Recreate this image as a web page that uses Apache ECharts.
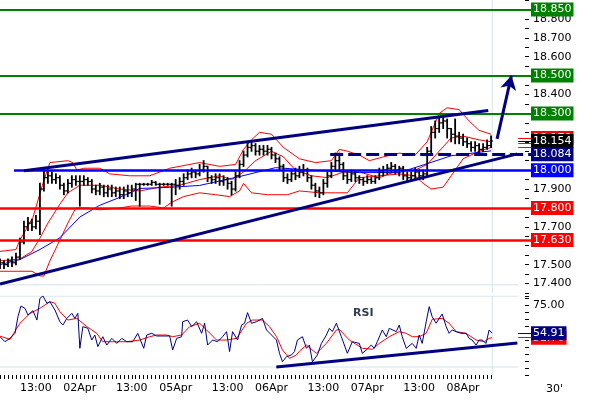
<!DOCTYPE html>
<html>
<head>
<meta charset="utf-8">
<title>30' chart</title>
<script src="https://cdn.jsdelivr.net/npm/echarts@6/dist/echarts.min.js"></script>
<style>
  html, body { margin: 0; padding: 0; background: #fff; }
  #chart { width: 590px; height: 400px; }
</style>
</head>
<body>
<div id="chart"></div>
<script>
// hourly bars, first bar = 01Apr 04:00   [open, close, low, high]
var bars = [
  [17.50, 17.51, 17.48, 17.53], [17.51, 17.50, 17.48, 17.52], [17.50, 17.52, 17.49, 17.53], [17.52, 17.51, 17.49, 17.54],
  [17.51, 17.54, 17.50, 17.56], [17.54, 17.62, 17.53, 17.64], [17.62, 17.70, 17.61, 17.73], [17.70, 17.72, 17.68, 17.75],
  [17.72, 17.70, 17.68, 17.74], [17.70, 17.73, 17.69, 17.76], [17.73, 17.90, 17.66, 17.93], [17.90, 17.96, 17.89, 18.01],
  [17.96, 17.97, 17.93, 18.00], [17.97, 17.95, 17.93, 17.99], [17.95, 17.96, 17.93, 17.98], [17.96, 17.92, 17.90, 17.97],
  [17.92, 17.89, 17.87, 17.93], [17.89, 17.93, 17.88, 17.95], [17.93, 17.95, 17.91, 17.97], [17.95, 17.94, 17.92, 17.97],
  [17.94, 17.94, 17.81, 17.97], [17.94, 17.95, 17.92, 17.97], [17.95, 17.94, 17.92, 17.96], [17.94, 17.90, 17.88, 17.95],
  [17.90, 17.89, 17.87, 17.92], [17.89, 17.91, 17.87, 17.93], [17.91, 17.88, 17.86, 17.92], [17.88, 17.90, 17.86, 17.92],
  [17.90, 17.88, 17.86, 17.92], [17.88, 17.89, 17.86, 17.91], [17.89, 17.87, 17.85, 17.91], [17.87, 17.89, 17.85, 17.91],
  [17.89, 17.88, 17.86, 17.92], [17.88, 17.90, 17.86, 17.92], [17.90, 17.925, 17.84, 17.93], [17.925, 17.925, 17.81, 17.93],
  [17.925, 17.925, 17.92, 17.93], [17.925, 17.925, 17.92, 17.93], [17.925, 17.935, 17.92, 17.945], [17.935, 17.925, 17.92, 17.94],
  [17.925, 17.925, 17.82, 17.93], [17.925, 17.925, 17.92, 17.93], [17.925, 17.925, 17.92, 17.93], [17.925, 17.925, 17.81, 17.93],
  [17.925, 17.92, 17.87, 17.95], [17.92, 17.94, 17.90, 17.96], [17.94, 17.96, 17.92, 17.98], [17.96, 17.98, 17.95, 18.00],
  [17.98, 17.99, 17.96, 18.01], [17.99, 17.98, 17.96, 18.00], [17.98, 18.00, 17.97, 18.03], [18.00, 18.02, 17.99, 18.05],
  [18.02, 17.96, 17.94, 18.02], [17.96, 17.95, 17.93, 17.97], [17.95, 17.96, 17.93, 17.98], [17.96, 17.94, 17.92, 17.98],
  [17.94, 17.95, 17.92, 17.97], [17.95, 17.93, 17.90, 17.96], [17.93, 17.90, 17.87, 17.94], [17.90, 17.97, 17.89, 17.99],
  [17.97, 18.03, 17.96, 18.05], [18.03, 18.08, 18.02, 18.10], [18.08, 18.12, 18.07, 18.14], [18.12, 18.13, 18.10, 18.155],
  [18.13, 18.10, 18.08, 18.14], [18.10, 18.11, 18.08, 18.13], [18.11, 18.10, 18.08, 18.13], [18.10, 18.11, 18.08, 18.13],
  [18.11, 18.08, 18.06, 18.12], [18.08, 18.06, 18.04, 18.09], [18.06, 18.02, 18.00, 18.07], [18.02, 17.96, 17.94, 18.03],
  [17.96, 17.95, 17.93, 17.98], [17.95, 17.98, 17.94, 18.00], [17.98, 17.97, 17.95, 18.01], [17.97, 17.99, 17.96, 18.02],
  [17.99, 18.00, 17.97, 18.03], [18.00, 17.96, 17.94, 18.01], [17.96, 17.92, 17.90, 17.97], [17.92, 17.89, 17.86, 17.93],
  [17.89, 17.88, 17.855, 17.91], [17.88, 17.93, 17.87, 17.95], [17.93, 17.97, 17.91, 17.99], [17.97, 18.02, 17.96, 18.04],
  [18.02, 18.05, 18.00, 18.09], [18.05, 18.03, 18.00, 18.09], [18.03, 17.97, 17.95, 18.04], [17.97, 17.95, 17.93, 17.99],
  [17.95, 17.98, 17.94, 18.00], [17.98, 17.96, 17.94, 17.99], [17.96, 17.95, 17.93, 17.97], [17.95, 17.94, 17.92, 17.96],
  [17.94, 17.95, 17.93, 17.97], [17.95, 17.94, 17.93, 17.96], [17.94, 17.96, 17.93, 17.97], [17.96, 17.99, 17.95, 18.01],
  [17.99, 18.00, 17.97, 18.02], [18.00, 18.01, 17.98, 18.03], [18.01, 18.02, 17.99, 18.04], [18.02, 18.00, 17.98, 18.03],
  [18.00, 18.01, 17.97, 18.02], [18.01, 17.97, 17.95, 18.02], [17.97, 17.96, 17.94, 17.99], [17.96, 17.97, 17.94, 17.99],
  [17.97, 17.99, 17.95, 18.01], [17.99, 17.97, 17.95, 18.00], [17.97, 17.98, 17.95, 18.00], [17.98, 18.10, 17.97, 18.12],
  [18.10, 18.20, 18.08, 18.23], [18.20, 18.22, 18.17, 18.26], [18.22, 18.25, 18.20, 18.28], [18.25, 18.26, 18.22, 18.29],
  [18.26, 18.22, 18.17, 18.27], [18.22, 18.19, 18.15, 18.22], [18.19, 18.18, 18.14, 18.27], [18.18, 18.17, 18.14, 18.20],
  [18.17, 18.15, 18.13, 18.19], [18.15, 18.14, 18.12, 18.17], [18.14, 18.12, 18.10, 18.15], [18.12, 18.13, 18.10, 18.15],
  [18.13, 18.11, 18.09, 18.14], [18.11, 18.12, 18.10, 18.14], [18.12, 18.13, 18.11, 18.16], [18.13, 18.154, 18.12, 18.18]
];

// indicator curves: [hour, value]
var upperBand = [[0, 17.57], [4, 17.58], [5, 17.63], [8.25, 17.75], [10.75, 17.93], [12.5, 18.04], [17, 18.05], [18.25, 18.04],
  [19.25, 18.00], [21, 18.01], [25, 18.01], [27.5, 17.98], [32.5, 17.97], [37.5, 17.97], [42.5, 18.01], [50, 18.04], [55, 18.02],
  [59, 18.03], [61, 18.11], [63, 18.16], [65, 18.20], [68, 18.19], [71, 18.12], [75, 18.06], [79, 18.04], [83, 18.05], [85, 18.11],
  [87, 18.10], [90, 18.08], [92.5, 18.05], [96, 18.07], [100, 18.09], [104, 18.08], [107, 18.15], [110, 18.30], [112, 18.33],
  [115, 18.32], [117.5, 18.26], [120, 18.21], [123, 18.19]];
var middleBand = [[0, 17.52], [5, 17.53], [8, 17.57], [10, 17.64], [12, 17.72], [15, 17.82], [17, 17.88], [20, 17.92], [25, 17.92],
  [30, 17.90], [35, 17.89], [40, 17.91], [45, 17.92], [50, 17.95], [55, 17.97], [58, 17.95], [61, 17.99], [64, 18.05], [68, 18.10],
  [71, 18.07], [74, 18.00], [78, 17.97], [82, 17.96], [86, 17.99], [90, 17.99], [95, 17.96], [100, 18.00], [104, 18.00], [107, 18.03],
  [110, 18.10], [113, 18.17], [116, 18.18], [120, 18.16], [123, 18.15]];
var lowerBand = [[0, 17.465], [8, 17.465], [10, 17.44], [11, 17.44], [12.5, 17.52], [15, 17.63], [17, 17.72], [19, 17.80], [22, 17.80],
  [25, 17.79], [30, 17.80], [33, 17.81], [37.5, 17.81], [41, 17.80], [43, 17.83], [46, 17.86], [50, 17.88], [54, 17.87], [57.5, 17.86],
  [60, 17.89], [61, 17.93], [63, 17.88], [67, 17.87], [72, 17.87], [75, 17.89], [80, 17.88], [84, 17.88], [87, 17.88], [90, 17.96],
  [95, 17.97], [100, 17.98], [104, 17.97], [106, 17.93], [108, 17.90], [111, 17.91], [113, 17.97], [116, 18.06], [120, 18.10], [123, 18.12]];
var maLine = [[0, 17.50], [5, 17.527], [10, 17.58], [15, 17.642], [20, 17.752], [25, 17.814], [30, 17.856], [35, 17.903], [42.5, 17.909],
  [50, 17.919], [60, 17.966], [69, 18.013], [80, 17.997], [90, 17.987], [100, 17.987], [107, 18.034], [113, 18.076], [123, 18.102]];

var rsiLine = [[0, 52.4], [1.25, 48.8], [2.5, 51.2], [3.75, 54.8], [4.5, 66.7], [5.25, 74.3], [6.25, 72.7], [7, 67.9], [8.25, 71.0],
  [9.25, 64.3], [10, 79.8], [10.75, 81.5], [11.75, 76.3], [12.5, 77.4], [13.75, 71.5], [15, 63.1], [15.75, 60.7], [16.75, 65.5],
  [18, 69.1], [18.75, 65.5], [19.5, 69.1], [20, 44.1], [20.75, 59.6], [22, 58.4], [23, 50.0], [23.75, 53.6], [24.5, 45.3],
  [25.75, 52.4], [26.75, 46.4], [28, 51.2], [29.25, 47.6], [30.5, 51.2], [31.75, 48.8], [33.25, 48.8], [34.5, 54.8], [36, 44.1],
  [36.75, 53.6], [38, 54.8], [39.25, 52.9], [42.5, 52.9], [43.25, 42.9], [44.25, 51.2], [45.5, 52.4], [45.75, 63.1], [47, 64.3],
  [48, 59.6], [49.25, 63.1], [50.5, 54.8], [51.25, 62.0], [52, 46.4], [53.25, 50.0], [54.5, 48.8], [55.75, 52.4], [56.75, 56.0],
  [57.5, 41.7], [58.25, 56.0], [59.5, 50.0], [60.5, 60.7], [61.25, 62.0], [62, 69.6], [63, 62.0], [64.25, 63.1], [65.75, 65.5],
  [66.75, 57.2], [68, 53.6], [69.25, 50.0], [70, 40.5], [70.75, 34.5], [71.75, 38.1], [73, 39.3], [73.75, 41.7], [74.5, 50.0],
  [75.75, 52.4], [76.75, 44.1], [77.5, 46.4], [78.25, 34.5], [79.5, 39.3], [80.5, 47.6], [81.75, 53.6], [82.5, 58.4], [83.25, 56.0],
  [84.25, 62.0], [84.5, 63.1], [85.5, 52.4], [87, 40.5], [88.25, 48.8], [90, 47.6], [90.75, 40.5], [91.75, 42.9], [93, 46.4],
  [93.75, 44.1], [94.5, 48.8], [95.75, 57.2], [96.75, 52.4], [97.5, 58.4], [99.25, 56.0], [100, 60.7], [100.75, 52.4], [101.75, 44.1],
  [103.25, 47.6], [104.25, 44.1], [105, 53.6], [105.75, 47.6], [106.75, 63.1], [107.5, 73.9], [108.25, 66.7], [109.25, 62.0],
  [110, 65.5], [110.75, 68.6], [111.75, 59.6], [112.5, 54.8], [113.25, 57.2], [114.25, 56.0], [115.5, 54.8], [116.75, 54.8],
  [117.5, 51.2], [118.25, 50.0], [119.25, 46.4], [120, 50.0], [120.75, 50.0], [121.75, 47.6], [122.5, 57.2], [123.25, 54.91]];
var rsiSignal = [[0, 52.8], [2.5, 50.5], [5, 62], [7.5, 69], [10, 72.7], [12.5, 77.4], [13.75, 76.3], [15, 70.3], [17, 64.3],
  [19.25, 65.5], [21.75, 59.6], [24.25, 54.8], [25.75, 48.8], [28.25, 48.8], [31.75, 48.8], [35, 50], [37.5, 52.4], [39.25, 53.6],
  [41.75, 53.6], [43.25, 52.4], [45.5, 53.6], [47.5, 59.6], [50, 62], [51.75, 57.2], [54.25, 50], [56.75, 50], [59.25, 51.2],
  [61.75, 62], [63.25, 64.3], [65.75, 64.3], [67.5, 59.6], [69.25, 52.4], [70.75, 42.9], [72.5, 36.9], [74.25, 39.3], [75, 42],
  [76.75, 46.4], [79.25, 40.5], [81.75, 47.6], [84.25, 57.2], [85, 57.6], [87.5, 50], [90.75, 44.1], [93.25, 43.4], [95, 47.6],
  [97.5, 52.4], [100, 56], [101.75, 54.8], [103.25, 52.4], [105, 52.4], [106.75, 54.8], [108.25, 64.8], [110.75, 65.5], [112.5, 62],
  [114.25, 56], [116.75, 54.8], [119.25, 50], [121.25, 48.8], [122.5, 51.2], [123.25, 51.7]];

// drawn levels and lines
var greenLevels = [18.85, 18.5, 18.3];
var redLevels = [17.8, 17.63];
var pivotLevel = 18.0;
var breakLevel = 18.084;
var lastPrice = 18.154;
var bandTop = 18.17;
var bandEnds = [18.14, 18.12];
var channelTop = [[6, 17.997], [122.3, 18.315]];
var channelBottom = [[0, 17.397], [129.6, 18.086]];
var targetArrow = [[124.5, 18.165], [128.1, 18.5]];
var rsiSupport = [[69.2, 30.7], [129.6, 47.9]];
var rsiLast = 54.91;
var signalLast = 51.7;
var nowHour = 123.3;

var labelHours = [9, 20, 33, 44, 57, 68, 81, 92, 105, 116];
var labelText = ['13:00', '02Apr', '13:00', '05Apr', '13:00', '06Apr', '13:00', '07Apr', '13:00', '08Apr'];

var NAVY = '#000080';
var LIGHT = '#d3e4ec';
var FONT = 'DejaVu Sans';
var END = 133;      // right edge of the plot, in hours
var FRAME = 129.8;  // where the light frame lines stop

var tickHours = [];
for (var t = 0; t <= 123; t++) tickHours.push(t);

// price labels that sit under a tag are not drawn
var taggedPrices = greenLevels.concat(redLevels, [pivotLevel, breakLevel, lastPrice, bandTop]);

function tag(text, bg) {
    return {
        show: true, position: 'end', distance: 0, formatter: text,
        color: '#fff', backgroundColor: bg, padding: [1, 2, 0, 2],
        fontFamily: FONT, fontSize: 11, lineHeight: 13
    };
}

function segment(x0, x1, y, color, width, label, dash) {
    return [
        {coord: [x0, y], lineStyle: {color: color, width: width, type: dash || 'solid'}, label: label || {show: false}},
        {coord: [x1, y]}
    ];
}

function renderOhlc(params, api) {
    var x = api.value(0);
    var o = api.coord([x, api.value(1)]);
    var c = api.coord([x, api.value(2)]);
    var l = api.coord([x, api.value(3)]);
    var h = api.coord([x, api.value(4)]);
    var tick = {stroke: '#000', lineWidth: 1.2};
    return {
        type: 'group',
        children: [
            {type: 'line', shape: {x1: l[0], y1: l[1] + 0.5, x2: h[0], y2: h[1] - 0.5}, style: {stroke: '#000', lineWidth: 1.8}},
            {type: 'line', shape: {x1: o[0] - 2, y1: o[1], x2: o[0], y2: o[1]}, style: tick},
            {type: 'line', shape: {x1: c[0], y1: c[1], x2: c[0] + 2, y2: c[1]}, style: tick}
        ]
    };
}

function thin(data, color, grid, z) {
    return {
        type: 'line', data: data, xAxisIndex: grid, yAxisIndex: grid, showSymbol: false, silent: true,
        lineStyle: {color: color, width: 1}, z: z || 2
    };
}

function thick(data, color, grid, width, z) {
    return {
        type: 'line', data: data, xAxisIndex: grid, yAxisIndex: grid, showSymbol: false, silent: true,
        lineStyle: {color: color, width: width}, z: z || 5
    };
}

var levelLines = [];
greenLevels.forEach(function (v) {
    levelLines.push(segment(0, END, v, '#008000', 2, tag(v.toFixed(3), '#008000')));
});
redLevels.forEach(function (v) {
    levelLines.push(segment(0, END, v, '#ff0000', 2.5, tag(v.toFixed(3), '#ff0000')));
});
levelLines.push(segment(3.5, END, pivotLevel, '#0000ff', 2.5, tag(pivotLevel.toFixed(3), '#0000ff')));

var chart = echarts.init(document.getElementById('chart'));

chart.setOption({
    animation: false,
    backgroundColor: '#fff',
    textStyle: {fontFamily: FONT},
    grid: [
        {left: 0, top: -4, width: 531, height: 297},
        {left: 0, top: 296, width: 531, height: 79}
    ],
    xAxis: [
        {gridIndex: 0, type: 'value', min: 0, max: END, show: false, axisLine: {onZero: false}},
        {
            gridIndex: 1, type: 'value', min: 0, max: END,
            axisLine: {show: false, onZero: false},
            splitLine: {show: false},
            axisTick: {show: true, length: 4, lineStyle: {color: '#000'}, customValues: tickHours},
            axisLabel: {
                customValues: labelHours, color: '#000', fontSize: 11, fontFamily: FONT, margin: 8,
                formatter: function (v) { return labelText[labelHours.indexOf(v)] || ''; }
            }
        }
    ],
    yAxis: [
        {
            gridIndex: 0, type: 'value', position: 'right', offset: -6,
            min: 17.35, max: 18.9, interval: 0.05,
            axisLine: {show: false, onZero: false},
            splitLine: {show: false},
            axisTick: {show: true, length: 4, lineStyle: {color: '#000'}},
            axisLabel: {
                color: '#000', fontSize: 11, fontFamily: FONT, margin: 8,
                formatter: function (v) {
                    var k = Math.round(v * 10);
                    if (Math.abs(v * 10 - k) > 1e-6 || v > 18.86) return '';
                    for (var i = 0; i < taggedPrices.length; i++) {
                        if (Math.abs(taggedPrices[i] - v) < 0.035) return '';
                    }
                    return v.toFixed(3);
                }
            }
        },
        {
            gridIndex: 1, type: 'value', position: 'right', offset: -6,
            min: 25, max: 81.5, interval: 5,
            axisLine: {show: false, onZero: false},
            splitLine: {show: false},
            axisTick: {show: true, length: 4, lineStyle: {color: '#000'}},
            axisLabel: {
                color: '#000', fontSize: 11, fontFamily: FONT, margin: 8,
                formatter: function (v) { return Math.abs(v - 75) < 1e-6 ? '75.00' : ''; }
            }
        }
    ],
    series: [
        // frame lines
        thin([[0, 17.393], [FRAME, 17.393]], LIGHT, 0, 1),
        thin([[nowHour, 17.35], [nowHour, 18.9]], LIGHT, 0, 1),
        thin([[0, 81.4], [FRAME, 81.4]], LIGHT, 1, 1),
        thin([[0, 30.7], [FRAME, 30.7]], LIGHT, 1, 1),
        thin([[nowHour, 25], [nowHour, 81.5]], LIGHT, 1, 1),

        // bollinger bands and moving average
        thin(upperBand, '#ff0000', 0),
        thin(middleBand, '#ff0000', 0),
        thin(lowerBand, '#ff0000', 0),
        thin(maLine, '#0000ff', 0),

        {
            type: 'custom', name: 'price', xAxisIndex: 0, yAxisIndex: 0, silent: true, z: 3,
            renderItem: renderOhlc,
            encode: {x: 0, y: [1, 2, 3, 4]},
            data: bars.map(function (b, i) { return [i].concat(b); })
        },

        // horizontal levels with tags
        {
            type: 'line', xAxisIndex: 0, yAxisIndex: 0, data: [], z: 4, clip: false, silent: true,
            markLine: {silent: true, symbol: ['none', 'none'], animation: false, data: levelLines}
        },

        // trend channel
        thick(channelTop, NAVY, 0, 3),
        thick(channelBottom, NAVY, 0, 3),

        // broken resistance and current price tags
        {
            type: 'line', xAxisIndex: 0, yAxisIndex: 0, data: [], z: 6, clip: false, silent: true,
            markLine: {
                silent: true, symbol: ['none', 'none'], animation: false,
                data: [
                    segment(FRAME, END, bandTop, '#ff0000', 1, tag(bandTop.toFixed(3), '#ff0000')),
                    segment(FRAME, END, bandEnds[0], '#ff0000', 1),
                    segment(FRAME, END, bandEnds[1], '#ff0000', 1),
                    segment(FRAME, END, lastPrice, '#000', 1, tag(lastPrice.toFixed(3), '#000')),
                    segment(82.7, END, breakLevel, NAVY, 3, tag(breakLevel.toFixed(3), NAVY), [13, 5])
                ]
            }
        },

        // target arrow
        {
            type: 'line', xAxisIndex: 0, yAxisIndex: 0, data: [], z: 6, clip: false, silent: true,
            markLine: {
                silent: true, animation: false, symbol: ['none', 'arrow'], symbolSize: [12, 14],
                data: [[
                    {coord: targetArrow[0], lineStyle: {color: NAVY, width: 3, type: 'solid'}, label: {show: false}},
                    {coord: targetArrow[1]}
                ]]
            }
        },

        // RSI panel
        thin(rsiSignal, '#ff0000', 1, 2),
        thin(rsiLine, NAVY, 1, 3),
        thick(rsiSupport, NAVY, 1, 3),
        {
            type: 'line', xAxisIndex: 1, yAxisIndex: 1, data: [], z: 6, clip: false, silent: true,
            markLine: {
                silent: true, symbol: ['none', 'none'], animation: false,
                data: [
                    segment(FRAME, END, signalLast, '#ff0000', 1, tag(signalLast.toFixed(2), '#ff0000')),
                    segment(FRAME, END, rsiLast, NAVY, 1, tag(rsiLast.toFixed(2), NAVY))
                ]
            }
        }
    ],
    graphic: [
        {type: 'text', left: 353, top: 308, style: {text: 'RSI', font: 'bold 11px "DejaVu Sans"', fill: '#2f3f4f'}},
        {type: 'text', left: 546, top: 384, style: {text: "30'", font: '11px "DejaVu Sans"', fill: '#000'}}
    ]
});
</script>
</body>
</html>
